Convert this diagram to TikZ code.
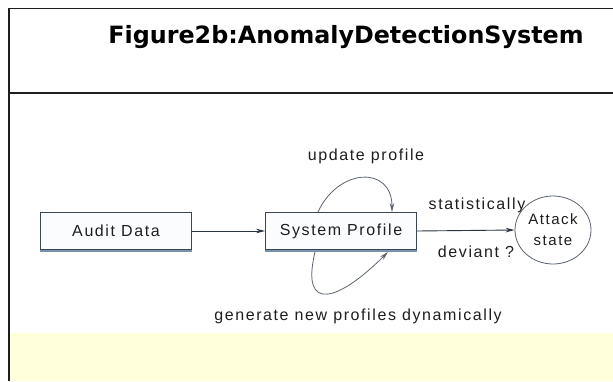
\documentclass[tikz,border=0pt]{standalone}
\usepackage{fontspec}
\setmainfont{Liberation Sans}
\newfontfamily\titlefont{DejaVu Sans}
\newfontfamily\diagfont[LetterSpace=10]{Liberation Sans}
\usetikzlibrary{arrows.meta,shapes.geometric}

\definecolor{frameline}{HTML}{1E1E1E}
\definecolor{boxline}{HTML}{3A4654}
\definecolor{boxshade}{HTML}{7893AA}
\definecolor{boxfill}{HTML}{FAFCFE}
\definecolor{connline}{HTML}{2B3442}
\definecolor{loopline}{HTML}{5C6470}
\definecolor{labeltext}{HTML}{1E1E1E}
\definecolor{notepaper}{HTML}{FFFFDC}

\tikzset{
  frame/.style={frameline, line width=1.6pt},
  procbox/.style={draw=boxline, fill=boxfill, line width=0.9pt,
    minimum width=151pt, minimum height=37pt, inner sep=0pt,
    font=\diagfont\fontsize{16}{18}\selectfont, text=labeltext},
  statenode/.style={ellipse, draw=loopline, fill=white, line width=0.8pt,
    minimum width=76pt, minimum height=68pt, inner sep=0pt, align=center,
    font=\diagfont\fontsize{15}{21}\selectfont, text=labeltext},
  lbl/.style={font=\diagfont\fontsize{16}{18}\selectfont, text=labeltext, inner sep=0pt},
  flow/.style={connline, line width=0.9pt, -{Stealth[length=9pt, width=4.5pt]}},
  selfloop/.style={loopline, line width=0.8pt, -{Stealth[length=9pt, width=4.5pt]}},
}

\begin{document}
\begin{tikzpicture}[x=1pt, y=-1pt]
  \useasboundingbox (0,0) rectangle (613,381);
  \fill[white] (0,0) rectangle (613,381);

  % yellow strip at the bottom of the slide
  \fill[notepaper] (9,333) rectangle (613,381);

  % table frame
  \draw[frame] (9,381) -- (9,8.5) -- (613,8.5);
  \draw[frame] (9,93) -- (613,93);

  % heading
  \node[font=\titlefont\bfseries\fontsize{23.8}{28}\selectfont, inner sep=0pt] (title) at (346,37)
    {Figure2b:AnomalyDetectionSystem};

  % diagram nodes
  \node[procbox] (audit) at (116,231) {Audit Data};
  \node[procbox] (sp) at (341,231) {System Profile};
  \node[statenode] (attack) at (553,230) {Attack\\state};

  % shaded bottom edges of the boxes
  \draw[boxshade, line width=2.6pt] ([yshift=-1pt]audit.south west) -- ([yshift=-1pt]audit.south east);
  \draw[boxshade, line width=2.6pt] ([yshift=-1pt]sp.south west) -- ([yshift=-1pt]sp.south east);

  % connectors
  \draw[flow] (audit.east) -- (sp.west);
  \draw[flow] (sp.east) -- (attack.west);
  \draw[selfloop] ([xshift=-23pt]sp.north) .. controls (338,168) and (392,165) .. ([xshift=51pt]sp.north);
  \draw[selfloop] ([xshift=-26pt,yshift=-2pt]sp.south) .. controls (300,315) and (340,300) .. ([xshift=47pt,yshift=-2pt]sp.south);

  % labels
  \node[lbl] (upd) at (366,156) {update profile};
  \node[lbl] (stat) at (477,205) {statistically};
  \node[lbl] (dev) at (476,252) {deviant ?};
  \node[lbl] (gen) at (358,316) {generate new profiles dynamically};
\end{tikzpicture}
\end{document}
